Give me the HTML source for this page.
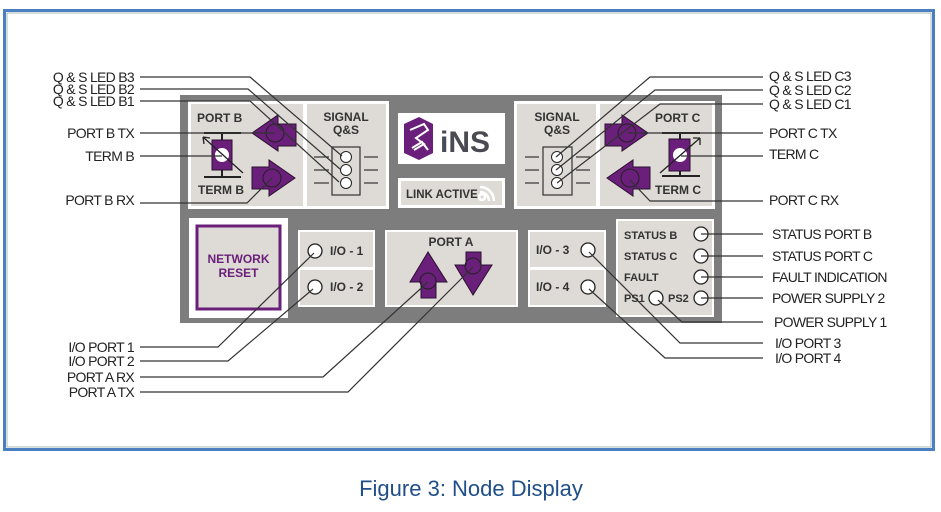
<!DOCTYPE html>
<html><head><meta charset="utf-8"><style>
html,body{margin:0;padding:0;background:#fff;width:941px;height:512px;overflow:hidden}
svg{display:block}
.lbl{font-family:"Liberation Sans",Arial,sans-serif;font-size:14px;fill:#222;letter-spacing:-0.7px}
.b{font-family:"Liberation Sans",Arial,sans-serif;font-weight:bold;font-size:12px;fill:#333}
.ln{stroke:#333;stroke-width:1.2;fill:none}
.pu{fill:#6a1f7a;stroke:#2a1030;stroke-width:1}
</style></head><body>
<svg width="941" height="512" viewBox="0 0 941 512" xmlns="http://www.w3.org/2000/svg">
<!-- frame -->
<rect x="4.5" y="10.5" width="929" height="439" fill="#fff" stroke="#4a7fc0" stroke-width="3"/>
<rect x="7" y="13" width="924" height="434" fill="none" stroke="#9aa" stroke-width="0.8"/>

<!-- panel -->
<rect x="180" y="95" width="542" height="228" fill="#7d7d7d"/>
<!-- B group -->
<rect x="188" y="101" width="201" height="108" fill="#fff"/>
<rect x="191" y="104" width="112" height="102" fill="#dedad5"/>
<rect x="307" y="104" width="79" height="102" fill="#dedad5"/>
<!-- C group -->
<rect x="514" y="101" width="201" height="108" fill="#fff"/>
<rect x="517" y="104" width="79" height="102" fill="#dedad5"/>
<rect x="600" y="104" width="112" height="102" fill="#dedad5"/>
<!-- logo -->
<rect x="398" y="113" width="107" height="51" fill="#fff"/>
<rect x="398" y="178" width="107" height="30" fill="#fff"/>
<rect x="401" y="181" width="101" height="24" fill="#dedad5"/>
<text x="406" y="198" class="b" style="font-size:11.5px">LINK ACTIVE</text>
<path d="M482 200 a3 3 0 1 1 0.1 0 M480 192 a9 9 0 0 1 9 9 M480 187 a14 14 0 0 1 14 14" stroke="#fff" stroke-width="2.5" fill="none"/>
<polygon points="419,117 433,124 433,153 419,160 404,153 404,124" fill="#6a1f7a"/>
<path d="M410 130 l14 -6 l4 6 l-12 8 l8 6 l-10 6 M412 148 l10 -6 l6 8" stroke="#fff" stroke-width="2" fill="none"/>
<text x="440" y="152" style="font-family:'Liberation Sans',Arial,sans-serif;font-weight:bold;font-size:30px;fill:#4a4a52">iNS</text>

<!-- network reset -->
<rect x="189" y="218" width="99" height="100" fill="#fff"/>
<rect x="197" y="226" width="83" height="83" fill="#dedad5" stroke="#6a1f7a" stroke-width="3"/>
<text x="238.5" y="263" text-anchor="middle" class="b" style="fill:#6a1f7a">NETWORK</text>
<text x="238.5" y="277" text-anchor="middle" class="b" style="fill:#6a1f7a">RESET</text>

<!-- IO 1/2 -->
<rect x="298" y="230" width="77" height="77" fill="#fff"/>
<rect x="300" y="232" width="73" height="35" fill="#dedad5"/>
<rect x="300" y="270" width="73" height="35" fill="#dedad5"/>
<circle cx="315" cy="251" r="7" fill="#fff" stroke="#222" stroke-width="1.3"/>
<circle cx="315" cy="287" r="7" fill="#fff" stroke="#222" stroke-width="1.3"/>
<text x="330" y="255" class="b">I/O - 1</text>
<text x="330" y="291" class="b">I/O - 2</text>

<!-- Port A -->
<rect x="385" y="230" width="133" height="77" fill="#fff"/>
<rect x="387" y="232" width="129" height="73" fill="#dedad5"/>
<text x="451" y="246" text-anchor="middle" class="b">PORT A</text>
<path class="pu" d="M428 252 L410 282 L421 282 L421 298 L436 298 L436 282 L447 282 Z"/>
<circle cx="428" cy="281" r="8" fill="none" stroke="#222"/>
<path class="pu" d="M473 295 L455 265 L466 265 L466 252 L481 252 L481 265 L492 265 Z"/>
<circle cx="473" cy="266" r="8" fill="none" stroke="#222"/>

<!-- IO 3/4 -->
<rect x="528" y="230" width="78" height="77" fill="#fff"/>
<rect x="530" y="232" width="74" height="35" fill="#dedad5"/>
<rect x="530" y="270" width="74" height="35" fill="#dedad5"/>
<circle cx="588" cy="250" r="7" fill="#fff" stroke="#222" stroke-width="1.3"/>
<circle cx="588" cy="287" r="7" fill="#fff" stroke="#222" stroke-width="1.3"/>
<text x="536" y="254" class="b">I/O - 3</text>
<text x="536" y="291" class="b">I/O - 4</text>

<!-- status -->
<rect x="616" y="219" width="98" height="98" fill="#fff"/>
<rect x="618" y="221" width="94" height="94" fill="#dedad5"/>
<g class="b" style="font-size:11px">
<text x="624" y="239">STATUS B</text>
<text x="624" y="260">STATUS C</text>
<text x="624" y="281">FAULT</text>
<text x="624" y="302">PS1</text>
<text x="668" y="302">PS2</text>
</g>
<g fill="#fff" stroke="#222" stroke-width="1.3">
<circle cx="701" cy="234" r="7"/><circle cx="701" cy="256" r="7"/>
<circle cx="701" cy="277" r="7"/><circle cx="701" cy="298" r="7"/>
<circle cx="656" cy="298" r="7"/>
</g>

<!-- Port B contents -->
<text x="197" y="122" class="b">PORT B</text>
<text x="198" y="194" class="b">TERM B</text>
<path class="pu" d="M252 133 L278 115 L278 124 L296 124 L296 146 L278 146 L278 151 Z"/>
<circle cx="275" cy="133" r="9" fill="none" stroke="#222"/>
<path class="pu" d="M295 178 L269 160 L269 167 L252 167 L252 189 L269 189 L269 196 Z"/>
<circle cx="272" cy="178" r="9" fill="none" stroke="#222"/>
<line x1="204" y1="133" x2="241" y2="133" stroke="#222" stroke-width="2"/>
<line x1="204" y1="177" x2="241" y2="177" stroke="#222" stroke-width="2"/>
<line x1="222" y1="133" x2="222" y2="177" stroke="#222" stroke-width="2"/>
<rect x="212" y="140" width="20" height="30" class="pu"/>
<circle cx="222" cy="155" r="7" fill="#fff"/>
<path d="M243 173 L203 137 M203 137 l7 1 M203 137 l1 7" stroke="#222" stroke-width="1.3" fill="none"/>
<!-- Signal B -->
<text x="346" y="121" text-anchor="middle" class="b">SIGNAL</text>
<text x="346" y="134" text-anchor="middle" class="b">Q&amp;S</text>
<rect x="332" y="147" width="28" height="48" fill="none" stroke="#333" stroke-width="1.2"/>
<g fill="#fff" stroke="#222"><circle cx="346" cy="157" r="5.5"/><circle cx="346" cy="170" r="5.5"/><circle cx="346" cy="183" r="5.5"/></g>
<g stroke="#333" stroke-width="1.2"><line x1="314" y1="157" x2="329" y2="157"/><line x1="314" y1="170" x2="329" y2="170"/><line x1="314" y1="183" x2="329" y2="183"/><line x1="364" y1="157" x2="378" y2="157"/><line x1="364" y1="170" x2="378" y2="170"/><line x1="364" y1="183" x2="378" y2="183"/></g>

<!-- Port C contents -->
<text x="655" y="122" class="b">PORT C</text>
<text x="655" y="194" class="b">TERM C</text>
<path class="pu" d="M648 133 L622 115 L622 124 L605 124 L605 146 L622 146 L622 151 Z"/>
<circle cx="627" cy="133" r="9" fill="none" stroke="#222"/>
<path class="pu" d="M607 178 L633 160 L633 167 L650 167 L650 189 L633 189 L633 196 Z"/>
<circle cx="630" cy="178" r="9" fill="none" stroke="#222"/>
<line x1="662" y1="133" x2="700" y2="133" stroke="#222" stroke-width="2"/>
<line x1="662" y1="176" x2="700" y2="176" stroke="#222" stroke-width="2"/>
<line x1="680" y1="133" x2="680" y2="176" stroke="#222" stroke-width="2"/>
<rect x="669" y="139" width="21" height="32" class="pu"/>
<circle cx="680" cy="155" r="7" fill="#fff"/>
<path d="M660 173 L700 138 M700 138 l-7 0 M700 138 l0 7" stroke="#222" stroke-width="1.3" fill="none"/>
<!-- Signal C -->
<text x="557" y="121" text-anchor="middle" class="b">SIGNAL</text>
<text x="557" y="134" text-anchor="middle" class="b">Q&amp;S</text>
<rect x="543" y="147" width="29" height="48" fill="none" stroke="#333" stroke-width="1.2"/>
<g fill="#fff" stroke="#222"><circle cx="557" cy="157" r="5.5"/><circle cx="557" cy="170" r="5.5"/><circle cx="557" cy="183" r="5.5"/></g>
<g stroke="#333" stroke-width="1.2"><line x1="525" y1="157" x2="539" y2="157"/><line x1="525" y1="170" x2="539" y2="170"/><line x1="525" y1="183" x2="539" y2="183"/><line x1="576" y1="157" x2="590" y2="157"/><line x1="576" y1="170" x2="590" y2="170"/><line x1="576" y1="183" x2="590" y2="183"/></g>

<!-- connectors -->
<g class="ln">
<polyline points="140,77 250,77 342,156"/>
<polyline points="140,89 248,89 340,169"/>
<polyline points="140,101 250,101 339,182"/>
<polyline points="140,133 275,133"/>
<polyline points="140,156 222,156"/>
<polyline points="140,203 247,203 272,178"/>
<polyline points="140,347 218,347 314,253"/>
<polyline points="140,361 228,361 313,289"/>
<polyline points="140,377 323,377 428,282"/>
<polyline points="140,392 348,392 473,267"/>
<polyline points="763,77 650,77 556,157"/>
<polyline points="763,90 655,90 556,170"/>
<polyline points="763,104 660,104 557,183"/>
<polyline points="763,133 628,133"/>
<polyline points="763,156 681,156"/>
<polyline points="763,201 650,201 630,180"/>
<polyline points="763,234 701,234"/>
<polyline points="763,256 701,256"/>
<polyline points="763,277 701,277"/>
<polyline points="763,298 701,298"/>
<polyline points="763,322 682,322 658,300"/>
<polyline points="763,343 680,343 589,252"/>
<polyline points="763,358 665,358 589,289"/>
</g>

<!-- left labels -->
<g class="lbl" text-anchor="end">
<text x="134" y="82">Q &amp; S LED B3</text>
<text x="134" y="94">Q &amp; S LED B2</text>
<text x="134" y="106">Q &amp; S LED B1</text>
<text x="134" y="138">PORT B TX</text>
<text x="134" y="161">TERM B</text>
<text x="134" y="205">PORT B RX</text>
<text x="134" y="352">I/O PORT 1</text>
<text x="134" y="366">I/O PORT 2</text>
<text x="134" y="382">PORT A RX</text>
<text x="134" y="397">PORT A TX</text>
</g>
<!-- right labels -->
<g class="lbl">
<text x="769" y="81">Q &amp; S LED C3</text>
<text x="769" y="95">Q &amp; S LED C2</text>
<text x="769" y="109">Q &amp; S LED C1</text>
<text x="769" y="138">PORT C TX</text>
<text x="769" y="159">TERM C</text>
<text x="769" y="205">PORT C RX</text>
<text x="772" y="239">STATUS PORT B</text>
<text x="772" y="261">STATUS PORT C</text>
<text x="772" y="282">FAULT INDICATION</text>
<text x="772" y="303">POWER SUPPLY 2</text>
<text x="774" y="327">POWER SUPPLY 1</text>
<text x="775" y="348">I/O PORT 3</text>
<text x="775" y="363">I/O PORT 4</text>
</g>

<text x="471" y="496" text-anchor="middle" style="font-family:'Liberation Sans',sans-serif;font-size:22px;fill:#1f4e89">Figure 3: Node Display</text>
</svg>
</body></html>
